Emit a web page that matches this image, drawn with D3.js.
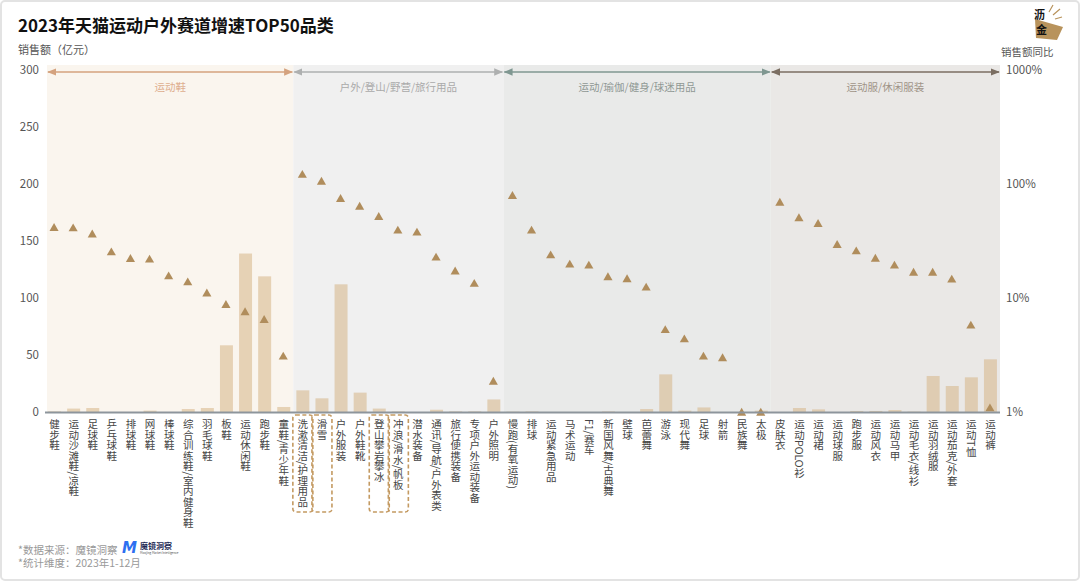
<!DOCTYPE html>
<html>
<head>
<meta charset="utf-8">
<script src="https://cdn.jsdelivr.net/npm/d3@7/dist/d3.min.js"></script>
<style>
  body{margin:0;background:#fff}
  svg{font-family:"Noto Sans CJK SC","Noto Sans",sans-serif;display:block}
</style>
</head>
<body>
<svg id="chart" width="1080" height="582"></svg>
<script>
// categories, in display order
const categories = [
  '健步鞋','运动沙滩鞋/凉鞋','足球鞋','乒乓球鞋','排球鞋','网球鞋','棒球鞋','综合训练鞋/室内健身鞋','羽毛球鞋','板鞋','运动休闲鞋','跑步鞋','童鞋/青少年鞋',
  '洗漱清洁/护理用品','滑雪','户外服装','户外鞋靴','登山攀岩攀冰','冲浪/滑水/帆板','潜水装备','通讯/导航/户外表类','旅行便携装备','专项户外运动装备','户外照明',
  '慢跑(有氧运动)','排球','运动紧急用品','马术运动','F1/赛车','新国风舞/古典舞','壁球','芭蕾舞','游泳','现代舞','足球','射箭','民族舞','太极',
  '皮肤衣','运动POLO衫','运动裙','运动球服','跑步服','运动风衣','运动马甲','运动毛衣/线衫','运动羽绒服','运动茄克/外套','运动T恤','运动裤'
]
// 销售额（亿元）
const sales = [
  0.5, 3, 3.5, 0, 0, 1.2, 0, 2.6, 3.5, 58.5, 139, 119, 4.4,
  19, 12, 112, 17, 3, 0.5, 0, 2, 0.5, 0.5, 11,
  0.3, 0.5, 0, 0, 0, 0.5, 0, 2.6, 33, 1.2, 4, 0, 0, 1.2,
  0, 3.5, 2.3, 0, 0.9, 0.9, 1.7, 0.3, 31.6, 22.8, 30.4, 46.2
]
// 销售额同比（%）
const yoy = [
  41.7, 41.4, 36.6, 25.5, 22.3, 22, 15.7, 13.9, 11.1, 8.8, 7.6, 6.5, 3.1,
  122, 106, 75, 64, 52, 39.5, 38, 22.9, 17.3, 13.5, 1.87,
  79.6, 39.5, 24, 19.9, 19.5, 15.4, 14.8, 12.5, 5.3, 4.4, 3.1, 3.0, 1, 1,
  69.5, 50.7, 45.2, 29.6, 26, 22.4, 19.5, 16.9, 16.9, 14.7, 5.8, 1.09
]
const sectionNames = ['运动鞋','户外/登山/野营/旅行用品','运动/瑜伽/健身/球迷用品','运动服/休闲服装']
const sectionSizes = [13, 11, 14, 12]
const highlighted = ['洗漱清洁/护理用品','滑雪','登山攀岩攀冰','冲浪/滑水/帆板']
const leftTicks = [0, 50, 100, 150, 200, 250, 300]
const rightTicks = [1, 10, 100, 1000]

// section look
const secStyle = [
  { bg:'#faf5ee', arrow:'#d4a27e', label:'#deae8e' },
  { bg:'#f0f0f0', arrow:'#aeb0b0', label:'#aaaaaa' },
  { bg:'#e9eae9', arrow:'#7f9791', label:'#8f9894' },
  { bg:'#eae8e6', arrow:'#7b6e62', label:'#a09488' }
]

const svg = d3.select('#chart')
const X0 = 45, X1 = 1000, YT = 70, YB = 412

const x = d3.scaleBand().domain(categories).range([X0, X1]).paddingInner(0.32).paddingOuter(0.16)
const step = x.step()
const yL = d3.scaleLinear().domain([0, 300]).range([YB, YT])
const yR = d3.scaleLog().domain([1, 1000]).range([YB, YT]).clamp(true)

// outer frame
svg.append('rect').attr('x',1).attr('y',1).attr('width',1078).attr('height',579)
  .attr('rx',4).attr('fill','#fff').attr('stroke','#e3e3e3').attr('stroke-width',2)

// section backgrounds + arrows
const defs = svg.append('defs')
secStyle.forEach((s,i) => {
  defs.append('marker').attr('id','ah'+i).attr('viewBox','0 0 10 10').attr('refX',9).attr('refY',5)
    .attr('markerWidth',7).attr('markerHeight',7).attr('orient','auto-start-reverse')
    .append('path').attr('d','M0,1L10,5L0,9Z').attr('fill',s.arrow)
})
let start = 0
const gSec = svg.append('g')
sectionNames.forEach((name,i) => {
  const a = categories[start], b = categories[start + sectionSizes[i] - 1]
  const xa = i===0 ? X0+2 : x(a) - step*x.paddingInner()/2
  const xb = i===sectionNames.length-1 ? X1 : x(b) + x.bandwidth() + step*x.paddingInner()/2
  gSec.append('rect').attr('x',xa).attr('y',65).attr('width',xb-xa).attr('height',YB-65).attr('fill',secStyle[i].bg)
  gSec.append('line').attr('x1',xa+1).attr('x2',xb-1).attr('y1',72).attr('y2',72)
    .attr('stroke',secStyle[i].arrow).attr('stroke-width',1.3)
    .attr('marker-start','url(#ah'+i+')').attr('marker-end','url(#ah'+i+')')
  gSec.append('text').attr('x',(xa+xb)/2).attr('y',91).attr('text-anchor','middle')
    .attr('font-size',10.5).attr('fill',secStyle[i].label).text(name)
  start += sectionSizes[i]
})

// bars
svg.append('g').selectAll('rect').data(categories).join('rect')
  .attr('x', d => x(d)).attr('width', x.bandwidth())
  .attr('y', (d,i) => yL(sales[i])).attr('height', (d,i) => YB - yL(sales[i]))
  .attr('fill','#d6b486').attr('fill-opacity',0.55)

// triangles
const tri = d3.symbol().type(d3.symbolTriangle).size(36)
svg.append('g').selectAll('path').data(categories).join('path')
  .attr('d', tri)
  .attr('transform', (d,i) => `translate(${x(d)+x.bandwidth()/2-0.5},${yR(yoy[i])+1})`)
  .attr('fill','#b08d5c')

// baseline
svg.append('line').attr('x1',X0).attr('x2',X1).attr('y1',YB+0.5).attr('y2',YB+0.5)
  .attr('stroke','#8d959c').attr('stroke-width',2)

// left axis
const axL = svg.append('g').attr('transform',`translate(${X0-6},0)`)
  .call(d3.axisLeft(yL).tickValues(leftTicks).tickSize(0).tickPadding(0))
axL.select('.domain').remove()
axL.selectAll('text').attr('font-size',11.5).attr('fill','#555').attr('font-family','"Noto Sans CJK SC",sans-serif')

// right axis
const axR = svg.append('g').attr('transform',`translate(${X1+6},0)`)
  .call(d3.axisRight(yR).tickValues(rightTicks).tickFormat(d => d + '%').tickSize(0).tickPadding(0))
axR.select('.domain').remove()
axR.selectAll('text').attr('font-size',11.5).attr('fill','#555').attr('font-family','"Noto Sans CJK SC",sans-serif')

// category labels (vertical)
svg.append('g').selectAll('text').data(categories).join('text')
  .attr('x', d => x(d) + x.bandwidth()/2).attr('y', 419)
  .style('writing-mode','vertical-rl')
  .attr('font-size',10.5).attr('fill','#454545')
  .text(d => d)

// dashed highlight boxes
svg.append('g').selectAll('rect').data(highlighted).join('rect')
  .attr('x', d => x(d) + x.bandwidth()/2 - 10).attr('width', 20)
  .attr('y', 415).attr('height', 97).attr('rx',3)
  .attr('fill','none').attr('stroke','#c49a62').attr('stroke-width',1.6).attr('stroke-dasharray','4 2.5')

// titles
svg.append('text').attr('x',18).attr('y',32).attr('font-size',17).attr('font-weight',700).attr('fill','#111')
  .text('2023年天猫运动户外赛道增速TOP50品类')
svg.append('text').attr('x',18).attr('y',54).attr('font-size',11).attr('fill','#555').text('销售额（亿元）')
svg.append('text').attr('x',1001).attr('y',56).attr('font-size',10.5).attr('fill','#555').text('销售额同比')

// logo top right
const lg = svg.append('g')
lg.append('path').attr('d','M1035,19L1063,27L1057,40L1036,38Z').attr('fill','#b8935c')
lg.append('path').attr('d','M1049,12L1053,5M1053,15L1060,9M1055,19L1062,17').attr('stroke','#b8935c').attr('stroke-width',1.2)
lg.append('text').attr('x',1034).attr('y',19).attr('font-size',11).attr('font-weight',700).attr('fill','#111').text('沥')
lg.append('text').attr('x',1036).attr('y',34).attr('font-size',11).attr('font-weight',700).attr('fill','#111').text('金')

// footer
svg.append('text').attr('x',18).attr('y',554).attr('font-size',10.5).attr('fill','#999').text('*数据来源：魔镜洞察')
svg.append('text').attr('x',18).attr('y',567).attr('font-size',10.5).attr('fill','#999').text('*统计维度：2023年1-12月')
svg.append('text').attr('x',122).attr('y',553).attr('font-size',15).attr('font-weight',900).attr('font-style','italic')
  .attr('fill','#2d6ff0').attr('font-family','"DejaVu Sans",sans-serif').text('M')
svg.append('text').attr('x',140).attr('y',549).attr('font-size',8).attr('font-weight',700).attr('fill','#1d2a55').text('魔镜洞察')
svg.append('text').attr('x',140).attr('y',554).attr('font-size',3).attr('fill','#555').text('Moojing Market Intelligence')
</script>
</body>
</html>
